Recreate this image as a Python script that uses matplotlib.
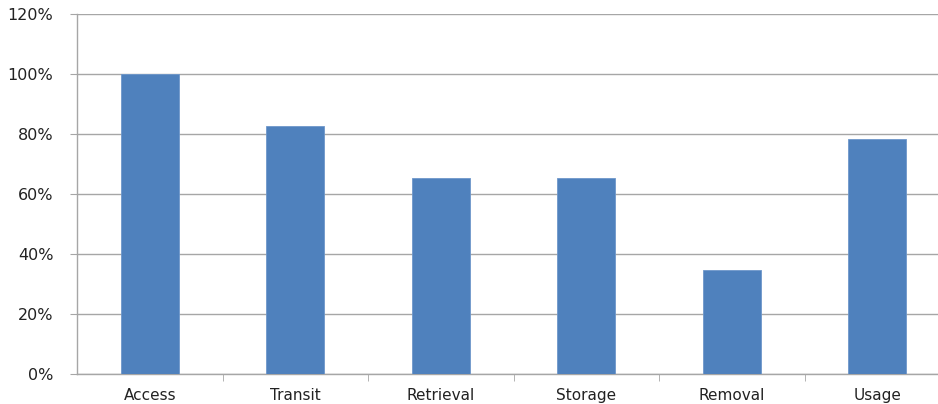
import matplotlib
matplotlib.use("Agg")
import matplotlib.pyplot as plt
from matplotlib.ticker import FuncFormatter, MultipleLocator

categories = ["Access", "Transit", "Retrieval", "Storage", "Removal", "Usage"]
shares = [100.0, 82.6, 65.2, 65.2, 34.8, 78.3]

W, H = 938, 404
fig = plt.figure(figsize=(W / 100, H / 100), dpi=100)
# plot area runs slightly past the right edge of the canvas
ax = fig.add_axes([77 / W, 30 / H, 873 / W, 360 / H])

x = list(range(len(categories)))
ax.bar(x, shares, width=0.4, color="#4F81BD", edgecolor="#6E97CB", linewidth=0.6, zorder=3)

ax.set_xlim(-0.5, len(categories) - 0.5)
ax.set_ylim(0, 120)
ax.yaxis.set_major_locator(MultipleLocator(20))
ax.yaxis.set_major_formatter(FuncFormatter(lambda v, _: f"{v:.0f}%"))
ax.grid(axis="y", color="#A6A6A6", linewidth=1.0, zorder=0)

ax.set_xticks(x)
ax.set_xticklabels(categories)
# category separator ticks between bars
ax.set_xticks([i + 0.5 for i in x[:-1]], minor=True)
ax.tick_params(axis="x", which="major", length=0, pad=10, labelsize=11, labelcolor="#222222")
ax.tick_params(axis="x", which="minor", length=5, color="#A6A6A6", direction="out")
ax.tick_params(axis="y", length=5, color="#A6A6A6", pad=12, labelsize=11.5, labelcolor="#222222")

for side in ("top", "right"):
    ax.spines[side].set_visible(False)
for side in ("left", "bottom"):
    ax.spines[side].set_color("#A6A6A6")
    ax.spines[side].set_linewidth(1.0)

fig.savefig("out.png", dpi=100)
